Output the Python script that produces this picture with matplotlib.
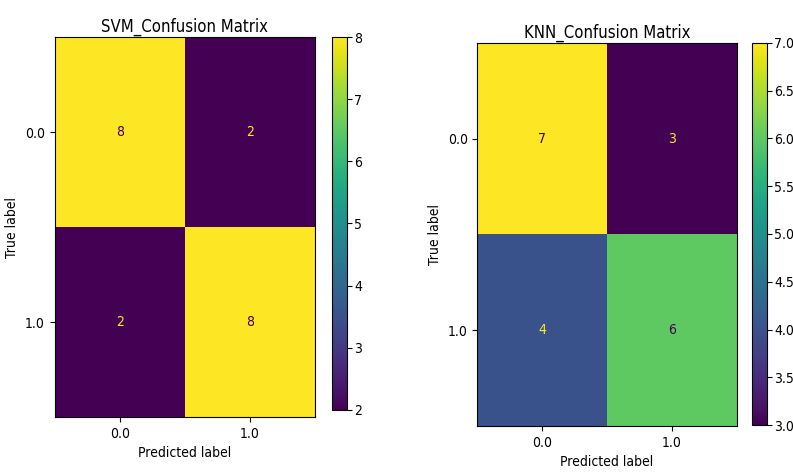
import matplotlib
matplotlib.use('Agg')
import matplotlib.pyplot as plt
from matplotlib import font_manager

# data
class_labels = ['0.0', '1.0']
svm_cm = [[8, 2],
          [2, 8]]
knn_cm = [[7, 3],
          [4, 6]]
svm_cbar_ticks = [2, 3, 4, 5, 6, 7, 8]
knn_cbar_ticks = [3.0, 3.5, 4.0, 4.5, 5.0, 5.5, 6.0, 6.5, 7.0]

# narrow font if we have one, the picture is squeezed sideways
names = {f.name for f in font_manager.fontManager.ttflist}
if 'Liberation Sans Narrow' in names:
    plt.rcParams['font.family'] = ['Liberation Sans Narrow', 'DejaVu Sans']
else:
    plt.rcParams['font.family'] = ['DejaVu Sans']
    plt.rcParams['font.stretch'] = 'condensed'
plt.rcParams['font.size'] = 10

cmap = plt.get_cmap('viridis')


def draw_cm(fig, ax_rect, cb_rect, cm, title, cbar_ticks, cbar_fmt):
    ax = fig.add_axes(ax_rect)
    cax = fig.add_axes(cb_rect)
    vmin = min(min(r) for r in cm)
    vmax = max(max(r) for r in cm)
    im = ax.imshow(cm, cmap=cmap, vmin=vmin, vmax=vmax, aspect='auto',
                   interpolation='nearest')
    thresh = (vmin + vmax) / 2.0
    for i in range(len(cm)):
        for j in range(len(cm[i])):
            v = cm[i][j]
            color = cmap(0.0) if v >= thresh else cmap(1.0)
            ax.text(j, i, str(v), ha='center', va='center', color=color,
                    fontsize=10)
    ax.set_xticks(range(len(class_labels)))
    ax.set_yticks(range(len(class_labels)))
    ax.set_xticklabels(class_labels)
    ax.set_yticklabels(class_labels)
    ax.tick_params(labelsize=10)
    ax.set_xlabel('Predicted label', fontsize=10)
    ax.set_ylabel('True label', fontsize=10)
    ax.set_title(title, fontsize=12, pad=4)
    cb = fig.colorbar(im, cax=cax, ticks=cbar_ticks)
    cb.ax.set_yticklabels([cbar_fmt.format(t) for t in cbar_ticks])
    cb.ax.tick_params(labelsize=10, pad=2)
    cb.outline.set_linewidth(0.8)
    return ax


fig = plt.figure(figsize=(7.93, 4.76), dpi=100)

draw_cm(fig, [0.069, 0.124, 0.328, 0.798], [0.419, 0.139, 0.018, 0.783],
        svm_cm, 'SVM_Confusion Matrix', svm_cbar_ticks, '{:d}')
draw_cm(fig, [0.602, 0.105, 0.327, 0.805], [0.948, 0.107, 0.019, 0.803],
        knn_cm, 'KNN_Confusion Matrix', knn_cbar_ticks, '{:.1f}')

fig.savefig('out.png', dpi=100)
